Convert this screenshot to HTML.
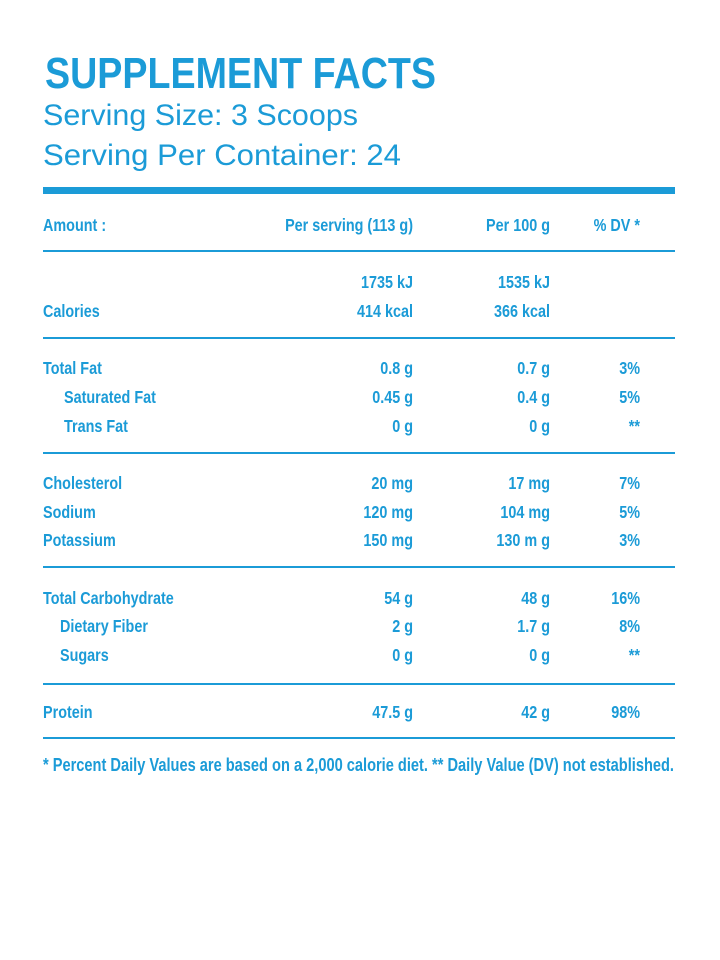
<!DOCTYPE html>
<html><head><meta charset="utf-8"><style>
html,body{margin:0;padding:0;background:#fff;}
svg{display:block;}
text{fill:#1b9bd7;font-family:"Liberation Sans",sans-serif;}
.b{font-weight:bold;font-size:18px;}
</style></head><body>
<svg width="720" height="960" viewBox="0 0 720 960">
<text x="45" y="88" font-weight="bold" font-size="44" textLength="391" lengthAdjust="spacingAndGlyphs">SUPPLEMENT FACTS</text>
<text x="43" y="125" font-size="30" textLength="315" lengthAdjust="spacingAndGlyphs">Serving Size: 3 Scoops</text>
<text x="43" y="165" font-size="30" textLength="358" lengthAdjust="spacingAndGlyphs">Serving Per Container: 24</text>
<rect x="43" y="187" width="632" height="7" fill="#1b9bd7"/>
<g fill="#1b9bd7">
<rect x="43" y="250" width="632" height="2"/>
<rect x="43" y="337" width="632" height="2"/>
<rect x="43" y="452" width="632" height="2"/>
<rect x="43" y="566" width="632" height="2"/>
<rect x="43" y="683" width="632" height="2"/>
<rect x="43" y="737" width="632" height="2"/>
</g>
<g id="tbl"></g>
<text class="b" x="43" y="771" textLength="631" lengthAdjust="spacingAndGlyphs">* Percent Daily Values are based on a 2,000 calorie diet. ** Daily Value (DV) not established.</text>
</svg>
<script>
const rowLabels=["Amount :","","Calories","Total Fat","Saturated Fat","Trans Fat","Cholesterol","Sodium","Potassium","Total Carbohydrate","Dietary Fiber","Sugars","Protein"];
const perServing=["Per serving (113 g)","1735 kJ","414 kcal","0.8 g","0.45 g","0 g","20 mg","120 mg","150 mg","54 g","2 g","0 g","47.5 g"];
const per100=["Per 100 g","1535 kJ","366 kcal","0.7 g","0.4 g","0 g","17 mg","104 mg","130 m g","48 g","1.7 g","0 g","42 g"];
const dv=["% DV *","","","3%","5%","**","7%","5%","3%","16%","8%","**","98%"];
const rowY=[225,282,311,368,397,426,483,512,540,598,626,655,712];
const indent=[43,43,43,43,64,64,43,43,43,43,60,60,43];
const ns="http://www.w3.org/2000/svg";
const g=document.getElementById('tbl');
function t(x,y,s,anchor,name){
  if(!s)return;
  const e=document.createElementNS(ns,'text');
  e.setAttribute('x',0);e.setAttribute('y',0);
  e.setAttribute('transform','translate('+x+','+(y+6)+') scale(0.8,1)');
  e.setAttribute('text-anchor',anchor);
  e.setAttribute('class','b');
  
  
  e.textContent=s;g.appendChild(e);
}
rowLabels.forEach((l,i)=>{
  t(indent[i],rowY[i],l,'start','row-label');
  t(413,rowY[i],perServing[i],'end','per-serving-value');
  t(550,rowY[i],per100[i],'end','per-100g-value');
  t(640,rowY[i],dv[i],'end','daily-value');
});
</script>
</body></html>
